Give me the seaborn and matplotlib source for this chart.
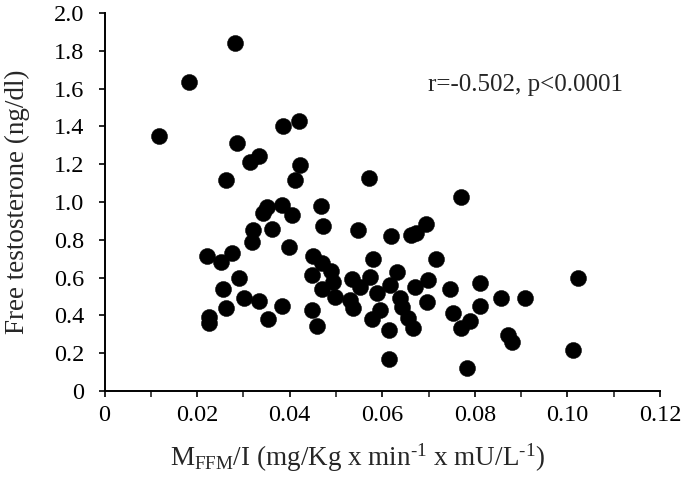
import matplotlib
matplotlib.use("Agg")
import matplotlib.pyplot as plt
import pandas as pd
import seaborn as sb
from matplotlib.ticker import MultipleLocator, FuncFormatter

# insulin sensitivity (M_FFM/I) and free testosterone values
m_ffm_i = [0.0118, 0.0183, 0.0282, 0.0287, 0.0386, 0.0420, 0.0334, 0.0314, 0.0422,
           0.0262, 0.0411, 0.0350, 0.0383, 0.0343, 0.0406, 0.0321, 0.0361, 0.0318,
           0.0399, 0.0222, 0.0251, 0.0275, 0.0291, 0.0255, 0.0301, 0.0334, 0.0383,
           0.0262, 0.0354, 0.0226, 0.0226, 0.0571, 0.0771, 0.0467, 0.0471, 0.0547,
           0.0618, 0.0663, 0.0672, 0.0694, 0.0450, 0.0469, 0.0579, 0.0715, 0.0490,
           0.0448, 0.0631, 0.0493, 0.0534, 0.0573, 0.0469, 0.0498, 0.0552, 0.0589,
           0.0617, 0.0671, 0.0699, 0.0696, 0.0746, 0.0811, 0.0811, 0.0530, 0.0537,
           0.0595, 0.0577, 0.0638, 0.0642, 0.0656, 0.0667, 0.0615, 0.0448, 0.0458,
           0.0752, 0.0789, 0.0771, 0.0615, 0.0782, 0.0856, 0.0908, 0.0872, 0.0880,
           0.1023, 0.1011]
free_t = [1.349, 1.637, 1.840, 1.314, 1.402, 1.430, 1.245, 1.213, 1.196,
          1.116, 1.116, 0.975, 0.984, 0.940, 0.931, 0.852, 0.856, 0.790,
          0.764, 0.714, 0.684, 0.732, 0.596, 0.538, 0.490, 0.478, 0.450,
          0.437, 0.379, 0.393, 0.361, 1.125, 1.028, 0.979, 0.873, 0.852,
          0.820, 0.825, 0.838, 0.884, 0.714, 0.675, 0.697, 0.697, 0.637,
          0.614, 0.631, 0.578, 0.590, 0.601, 0.538, 0.499, 0.552, 0.517,
          0.561, 0.552, 0.587, 0.473, 0.538, 0.570, 0.450, 0.481, 0.437,
          0.429, 0.379, 0.490, 0.446, 0.385, 0.332, 0.323, 0.429, 0.344,
          0.411, 0.372, 0.332, 0.168, 0.120, 0.490, 0.490, 0.296, 0.261,
          0.596, 0.217]

df = pd.DataFrame({'MFFM_I': m_ffm_i, 'FreeT': free_t})

sb.set_style('ticks')
plt.rcParams['font.family'] = ['Liberation Serif', 'DejaVu Serif']
plt.rcParams['mathtext.fontset'] = 'custom'
plt.rcParams['mathtext.rm'] = 'Liberation Serif'
plt.rcParams['mathtext.it'] = 'Liberation Serif:italic'

fig = plt.figure(figsize=(6.85, 4.82), dpi=100)
ax = fig.add_axes([0.1526, 0.189, 0.811, 0.784])

sb.scatterplot(data=df, x='MFFM_I', y='FreeT', ax=ax, color='black',
               s=135, edgecolor='black', linewidth=0.3, legend=False, zorder=3)

ax.set_xlim(0, 0.12)
ax.set_ylim(0, 2.0)
ax.xaxis.set_major_locator(MultipleLocator(0.02))
ax.xaxis.set_minor_locator(MultipleLocator(0.01))
ax.yaxis.set_major_locator(MultipleLocator(0.2))
ax.xaxis.set_major_formatter(FuncFormatter(lambda v, p: '0' if abs(v) < 1e-9 else f'{v:.2f}'))
ax.yaxis.set_major_formatter(FuncFormatter(lambda v, p: '0' if abs(v) < 1e-9 else f'{v:.1f}'))
ax.tick_params(axis='both', which='major', direction='out', length=4.5, width=1.2,
               labelsize=17.5, colors='black')
ax.tick_params(axis='x', which='major', pad=6)
ax.tick_params(axis='y', which='major', pad=10)
ax.tick_params(axis='x', which='minor', direction='out', length=4.5, width=1.2)

for side in ['left', 'bottom']:
    ax.spines[side].set_linewidth(1.4)
    ax.spines[side].set_color('black')
sb.despine(ax=ax)

ax.set_xlabel(r'M$_{\rm FFM}$/I (mg/Kg x min$^{\text{-1}}$ x mU/L$^{\text{-1}}$)',
              fontsize=19.5)
ax.set_ylabel('Free testosterone (ng/dl)', fontsize=19.5)
ax.xaxis.set_label_coords(0.456, -0.135)
ax.yaxis.set_label_coords(-0.134, 0.5)

ax.text(0.0699, 1.586, 'r=-0.502, p<0.0001', fontsize=18, va='baseline', ha='left')

fig.savefig('out.png', dpi=100)
